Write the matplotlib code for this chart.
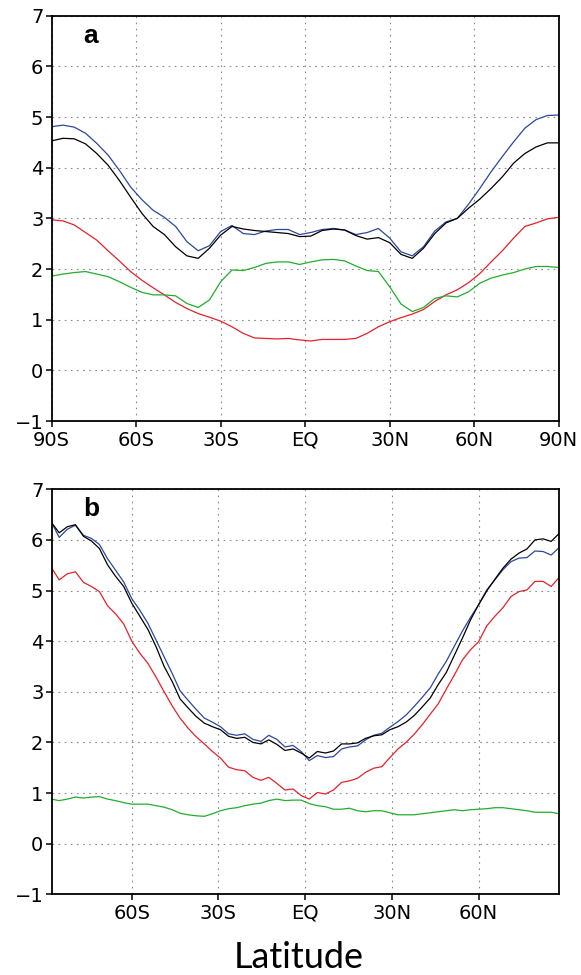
import matplotlib
matplotlib.use("Agg")
import matplotlib.pyplot as plt

# panel a: 4-degree grid
lat_a = [-90, -86, -82, -78, -74, -70, -66, -62, -58, -54, -50, -46, -42, -38, -34, -30,
         -26, -22, -18, -14, -10, -6, -2, 2, 6, 10, 14, 18, 22, 26, 30, 34, 38, 42, 46,
         50, 54, 58, 62, 66, 70, 74, 78, 82, 86, 90]
blue_a = [4.81, 4.84, 4.80, 4.68, 4.48, 4.25, 3.95, 3.62, 3.37, 3.16, 3.02, 2.84, 2.54, 2.36,
          2.46, 2.74, 2.86, 2.70, 2.68, 2.75, 2.78, 2.78, 2.68, 2.72, 2.78, 2.80, 2.77, 2.68,
          2.72, 2.80, 2.61, 2.34, 2.26, 2.44, 2.75, 2.93, 3.00, 3.28, 3.59, 3.92, 4.22, 4.51,
          4.78, 4.95, 5.03, 5.04]
black_a = [4.53, 4.58, 4.57, 4.47, 4.28, 4.05, 3.75, 3.42, 3.10, 2.84, 2.68, 2.44, 2.26, 2.21,
           2.41, 2.67, 2.84, 2.79, 2.76, 2.74, 2.72, 2.70, 2.64, 2.65, 2.76, 2.79, 2.77, 2.66,
           2.59, 2.62, 2.52, 2.29, 2.21, 2.41, 2.70, 2.91, 3.00, 3.20, 3.38, 3.59, 3.82, 4.09,
           4.28, 4.41, 4.49, 4.49]
red_a = [2.97, 2.95, 2.87, 2.72, 2.57, 2.36, 2.16, 1.95, 1.78, 1.63, 1.49, 1.34, 1.22, 1.12,
         1.05, 0.97, 0.86, 0.73, 0.64, 0.63, 0.62, 0.63, 0.60, 0.58, 0.61, 0.61, 0.61, 0.63,
         0.73, 0.86, 0.96, 1.04, 1.11, 1.20, 1.36, 1.49, 1.59, 1.73, 1.91, 2.14, 2.36, 2.61,
         2.84, 2.91, 2.99, 3.02]
green_a = [1.86, 1.90, 1.93, 1.95, 1.90, 1.85, 1.75, 1.64, 1.54, 1.49, 1.49, 1.47, 1.32, 1.24,
           1.39, 1.75, 1.98, 1.97, 2.03, 2.11, 2.14, 2.14, 2.09, 2.14, 2.18, 2.19, 2.16, 2.06,
           1.97, 1.95, 1.65, 1.31, 1.16, 1.24, 1.42, 1.47, 1.45, 1.55, 1.72, 1.82, 1.88, 1.93,
           2.00, 2.05, 2.05, 2.03]

# panel b: gaussian grid latitudes
lat_b = [-87.9, -85.1, -82.3, -79.5, -76.7, -74.0, -71.2, -68.4, -65.6, -62.8, -60.0, -57.2,
         -54.4, -51.6, -48.8, -46.0, -43.3, -40.5, -37.7, -34.9, -32.1, -29.3, -26.5, -23.7,
         -20.9, -18.1, -15.3, -12.6, -9.8, -7.0, -4.2, -1.4, 1.4, 4.2, 7.0, 9.8, 12.6, 15.3,
         18.1, 20.9, 23.7, 26.5, 29.3, 32.1, 34.9, 37.7, 40.5, 43.3, 46.0, 48.8, 51.6, 54.4,
         57.2, 60.0, 62.8, 65.6, 68.4, 71.2, 74.0, 76.7, 79.5, 82.3, 85.1, 87.9]
blue_b = [6.36, 6.05, 6.21, 6.29, 6.09, 6.03, 5.91, 5.63, 5.40, 5.17, 4.84, 4.61, 4.35, 4.02,
          3.69, 3.36, 3.02, 2.83, 2.65, 2.48, 2.40, 2.31, 2.17, 2.14, 2.17, 2.06, 2.02, 2.14,
          2.06, 1.91, 1.94, 1.82, 1.64, 1.74, 1.70, 1.72, 1.87, 1.91, 1.93, 2.05, 2.14, 2.18,
          2.30, 2.41, 2.54, 2.71, 2.89, 3.08, 3.35, 3.60, 3.90, 4.20, 4.47, 4.72, 5.01, 5.21,
          5.41, 5.57, 5.64, 5.65, 5.78, 5.77, 5.70, 5.85]
black_b = [6.35, 6.14, 6.26, 6.30, 6.07, 5.98, 5.83, 5.51, 5.28, 5.08, 4.75, 4.49, 4.23, 3.89,
           3.50, 3.20, 2.86, 2.68, 2.51, 2.38, 2.31, 2.25, 2.12, 2.08, 2.10, 2.00, 1.97, 2.05,
           1.96, 1.84, 1.87, 1.79, 1.69, 1.82, 1.79, 1.83, 1.97, 1.97, 1.99, 2.08, 2.13, 2.15,
           2.25, 2.31, 2.40, 2.53, 2.70, 2.88, 3.14, 3.38, 3.72, 4.06, 4.42, 4.72, 4.99, 5.22,
           5.44, 5.62, 5.74, 5.82, 6.00, 6.02, 5.97, 6.13]
red_b = [5.46, 5.21, 5.33, 5.37, 5.16, 5.08, 4.98, 4.70, 4.54, 4.34, 4.00, 3.76, 3.56, 3.29,
         3.00, 2.72, 2.48, 2.28, 2.11, 1.97, 1.82, 1.69, 1.51, 1.46, 1.44, 1.31, 1.25, 1.31,
         1.19, 1.06, 1.08, 0.95, 0.88, 1.01, 0.98, 1.06, 1.21, 1.24, 1.29, 1.41, 1.49, 1.52,
         1.70, 1.87, 2.00, 2.16, 2.35, 2.56, 2.76, 3.05, 3.33, 3.63, 3.83, 3.99, 4.30, 4.49,
         4.66, 4.88, 4.98, 5.01, 5.18, 5.18, 5.08, 5.26]
green_b = [0.88, 0.85, 0.88, 0.92, 0.90, 0.92, 0.93, 0.88, 0.85, 0.81, 0.78, 0.78, 0.78, 0.75,
           0.72, 0.67, 0.60, 0.57, 0.55, 0.54, 0.59, 0.65, 0.69, 0.71, 0.75, 0.78, 0.80, 0.85,
           0.88, 0.85, 0.86, 0.86, 0.79, 0.75, 0.73, 0.68, 0.68, 0.70, 0.65, 0.63, 0.65, 0.65,
           0.61, 0.57, 0.57, 0.57, 0.59, 0.61, 0.63, 0.65, 0.67, 0.65, 0.67, 0.68, 0.69, 0.71,
           0.71, 0.69, 0.67, 0.65, 0.62, 0.62, 0.62, 0.59]

ticks_a = [-90, -60, -30, 0, 30, 60, 90]
labels_a = ["90S", "60S", "30S", "EQ", "30N", "60N", "90N"]
ticks_b = [-60, -30, 0, 30, 60]
labels_b = ["60S", "30S", "EQ", "30N", "60N"]

colors = {"blue": "#2c479c", "black": "#000000", "red": "#e3222b", "green": "#22ad2c"}

fig = plt.figure(figsize=(5.81, 9.75), dpi=100)
ax_a = fig.add_axes([0.089, 0.5682, 0.8726, 0.4157])
ax_b = fig.add_axes([0.089, 0.0828, 0.8726, 0.4154])


def style(ax, ticks, labels, xlim, tag):
    ax.set_xlim(*xlim)
    ax.set_ylim(-1, 7)
    ax.set_xticks(ticks)
    ax.set_xticklabels(labels)
    ax.set_yticks(range(-1, 8))
    ax.grid(True, color="#8a8a8a", linestyle=(0, (1.5, 4)), linewidth=0.8)
    ax.tick_params(direction="out", length=4, width=1.1, labelsize=14, pad=2,
                   top=False, right=False)
    ax.tick_params(axis="x", pad=3)
    for s in ax.spines.values():
        s.set_linewidth(1.3)
    ax.text(0.062, 0.933, tag, transform=ax.transAxes, fontsize=19,
            fontweight="bold", family="Liberation Sans", va="baseline")


for ax, lat, series in [(ax_a, lat_a, [blue_a, black_a, red_a, green_a]),
                        (ax_b, lat_b, [blue_b, black_b, red_b, green_b])]:
    for vals, c in zip(series, ["blue", "black", "red", "green"]):
        ax.plot(lat, vals, color=colors[c], linewidth=0.9)

style(ax_a, ticks_a, labels_a, (-90, 90), "a")
style(ax_b, ticks_b, labels_b, (-87.7, 87.7), "b")

fig.text(299 / 581, 0.007, "Latitude", family="Lato", fontweight="normal",
         fontsize=26, ha="center", va="baseline", color="black")

fig.savefig("out.png", dpi=100)
